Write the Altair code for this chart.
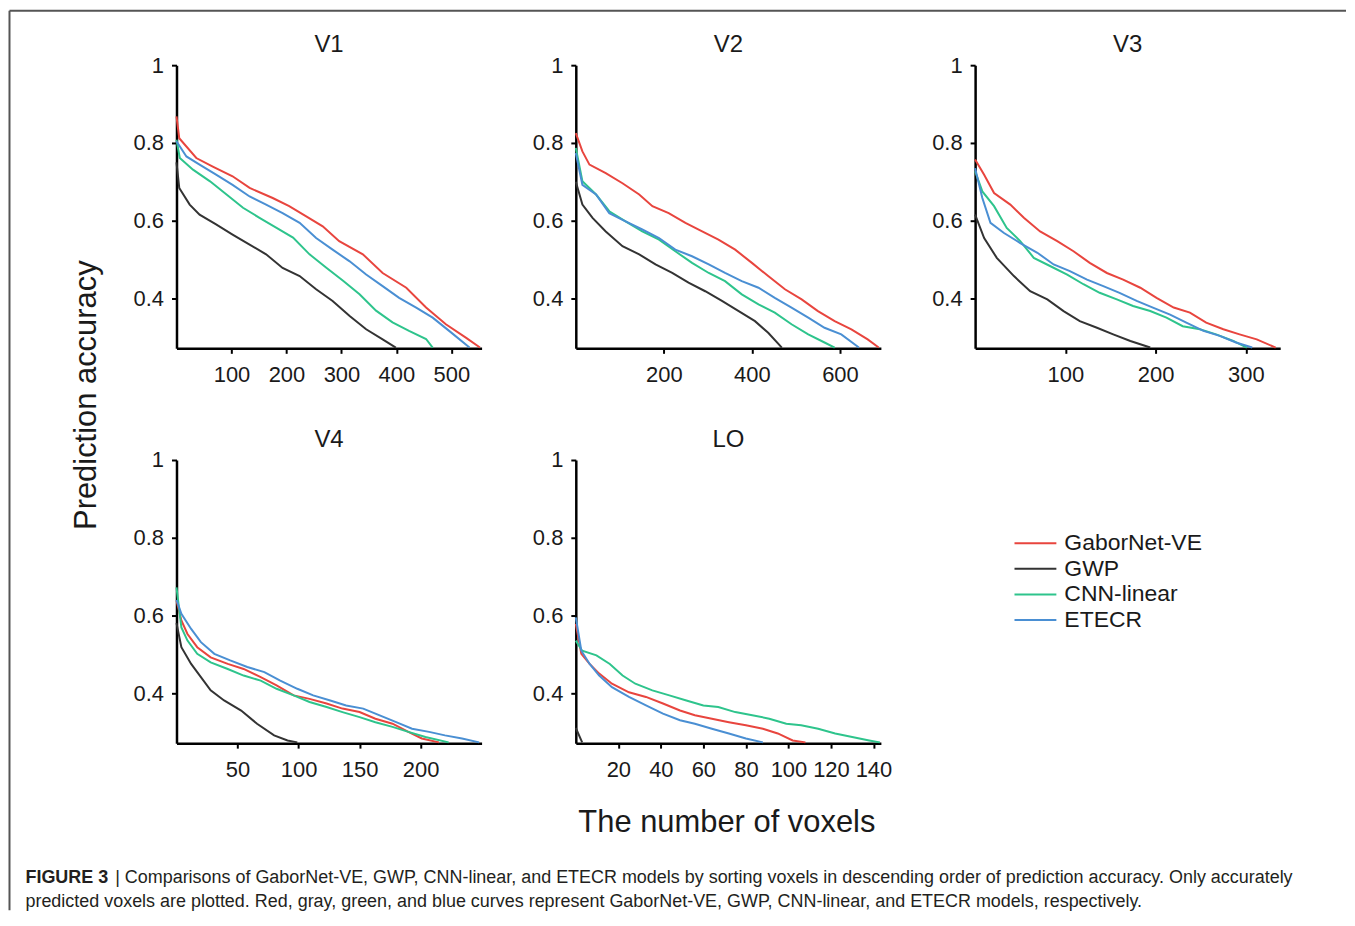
import altair as alt
import pandas as pd

FONT = "Liberation Sans"
MODELS = ["GaborNet-VE", "GWP", "CNN-linear", "ETECR"]
COLORS = ["#e8453e", "#333333", "#2ec48c", "#4a8fd3"]

PANELS = ["V1", "V2", "V3", "V4", "LO"]
X_MAX = [555, 693, 338, 250, 143.5]
X_TICKS = [[100, 200, 300, 400, 500], [200, 400, 600], [100, 200, 300],
           [50, 100, 150, 200], [20, 40, 60, 80, 100, 120, 140]]
Y_MIN = 0.271
Y_TICKS = [0.4, 0.6, 0.8, 1]

# (number of voxels, prediction accuracy)
V1_GABORNET = [[0, 0.868], [5, 0.812], [36, 0.761], [66, 0.739], [102, 0.714], [133, 0.684], [175, 0.658], [205, 0.637], [236, 0.611], [266, 0.585], [296, 0.547], [339, 0.513], [375, 0.465], [418, 0.427], [454, 0.376], [490, 0.333], [527, 0.298], [552, 0.273]]
V1_GWP = [[0, 0.75], [5, 0.684], [24, 0.641], [42, 0.615], [72, 0.590], [102, 0.564], [133, 0.538], [163, 0.513], [193, 0.478], [224, 0.457], [254, 0.423], [284, 0.393], [315, 0.354], [345, 0.320], [375, 0.294], [399, 0.273]]
V1_CNN = [[0, 0.808], [6, 0.761], [30, 0.731], [61, 0.701], [91, 0.667], [121, 0.633], [151, 0.607], [182, 0.581], [212, 0.556], [242, 0.513], [272, 0.479], [303, 0.445], [333, 0.410], [363, 0.368], [393, 0.338], [423, 0.316], [454, 0.295], [466, 0.273]]
V1_ETECR = [[0, 0.804], [18, 0.765], [42, 0.744], [72, 0.718], [102, 0.692], [133, 0.662], [163, 0.641], [193, 0.619], [224, 0.594], [254, 0.555], [284, 0.525], [315, 0.495], [345, 0.461], [375, 0.431], [405, 0.401], [436, 0.376], [466, 0.350], [496, 0.316], [533, 0.273]]

V2_GABORNET = [[0, 0.825], [15, 0.778], [31, 0.744], [68, 0.722], [106, 0.696], [144, 0.667], [174, 0.637], [211, 0.619], [249, 0.594], [287, 0.572], [324, 0.551], [362, 0.525], [400, 0.491], [437, 0.457], [475, 0.423], [513, 0.397], [550, 0.367], [588, 0.341], [626, 0.320], [663, 0.294], [688, 0.273]]
V2_GWP = [[0, 0.70], [15, 0.641], [38, 0.607], [68, 0.572], [106, 0.534], [144, 0.513], [181, 0.487], [219, 0.465], [256, 0.440], [294, 0.418], [332, 0.393], [370, 0.367], [407, 0.341], [437, 0.311], [468, 0.273]]
V2_CNN = [[0, 0.787], [15, 0.701], [46, 0.667], [76, 0.624], [113, 0.598], [151, 0.572], [189, 0.551], [226, 0.521], [264, 0.491], [302, 0.465], [339, 0.444], [377, 0.410], [415, 0.384], [452, 0.363], [490, 0.333], [528, 0.307], [565, 0.286], [588, 0.273]]
V2_ETECR = [[0, 0.774], [15, 0.692], [46, 0.667], [76, 0.619], [113, 0.598], [151, 0.577], [189, 0.555], [226, 0.525], [264, 0.508], [302, 0.487], [339, 0.465], [377, 0.444], [415, 0.427], [452, 0.401], [490, 0.376], [528, 0.350], [565, 0.324], [603, 0.307], [643, 0.273]]

V3_GABORNET = [[0, 0.757], [10, 0.718], [21, 0.671], [39, 0.641], [54, 0.607], [72, 0.572], [91, 0.547], [109, 0.521], [127, 0.491], [146, 0.465], [164, 0.448], [183, 0.427], [201, 0.401], [220, 0.376], [238, 0.363], [256, 0.337], [275, 0.320], [293, 0.307], [312, 0.294], [333, 0.273]]
V3_GWP = [[0, 0.615], [10, 0.555], [24, 0.504], [43, 0.457], [61, 0.418], [80, 0.397], [98, 0.367], [116, 0.341], [135, 0.324], [153, 0.307], [172, 0.290], [194, 0.273]]
V3_CNN = [[0, 0.727], [8, 0.675], [21, 0.637], [35, 0.581], [50, 0.547], [65, 0.504], [83, 0.483], [102, 0.461], [120, 0.436], [138, 0.414], [157, 0.397], [175, 0.380], [194, 0.367], [212, 0.350], [230, 0.328], [249, 0.320], [267, 0.307], [286, 0.290], [301, 0.273]]
V3_ETECR = [[0, 0.735], [8, 0.658], [17, 0.594], [32, 0.568], [50, 0.542], [69, 0.517], [87, 0.487], [105, 0.470], [124, 0.448], [142, 0.431], [160, 0.414], [179, 0.393], [197, 0.376], [216, 0.358], [234, 0.337], [253, 0.316], [271, 0.303], [289, 0.286], [307, 0.273]]

V4_GABORNET = [[0, 0.638], [4, 0.587], [9, 0.552], [17, 0.518], [28, 0.492], [42, 0.475], [55, 0.462], [69, 0.441], [82, 0.420], [96, 0.394], [109, 0.385], [123, 0.373], [136, 0.360], [150, 0.351], [163, 0.334], [177, 0.321], [190, 0.300], [201, 0.283], [215, 0.273]]
V4_GWP = [[0, 0.58], [4, 0.518], [12, 0.475], [20, 0.441], [28, 0.407], [39, 0.381], [53, 0.355], [66, 0.321], [80, 0.291], [91, 0.278], [99, 0.273]]
V4_CNN = [[0, 0.672], [4, 0.569], [9, 0.535], [17, 0.501], [28, 0.479], [42, 0.462], [55, 0.445], [69, 0.432], [82, 0.411], [96, 0.394], [109, 0.377], [123, 0.364], [136, 0.351], [150, 0.338], [163, 0.325], [177, 0.313], [190, 0.300], [204, 0.287], [223, 0.273]]
V4_ETECR = [[0, 0.64], [4, 0.604], [12, 0.565], [20, 0.531], [31, 0.501], [44, 0.484], [58, 0.467], [72, 0.454], [85, 0.432], [99, 0.411], [112, 0.394], [126, 0.381], [139, 0.368], [153, 0.360], [166, 0.343], [180, 0.325], [193, 0.308], [207, 0.300], [220, 0.291], [234, 0.283], [248, 0.273]]

LO_GABORNET = [[0, 0.578], [2.6, 0.501], [6.5, 0.475], [11, 0.450], [17, 0.424], [25, 0.402], [33, 0.390], [41, 0.373], [49, 0.355], [56, 0.343], [64, 0.334], [72, 0.325], [80, 0.317], [88, 0.308], [95, 0.296], [102, 0.278], [108, 0.273]]
LO_GWP = [[0, 0.31], [3, 0.273]]
LO_CNN = [[0, 0.535], [3, 0.509], [9.7, 0.497], [16, 0.475], [22, 0.445], [28, 0.424], [36, 0.407], [44, 0.394], [52, 0.381], [60, 0.368], [67, 0.364], [75, 0.351], [83, 0.343], [91, 0.334], [99, 0.321], [106, 0.317], [114, 0.308], [122, 0.296], [130, 0.287], [138, 0.278], [143, 0.273]]
LO_ETECR = [[0, 0.595], [2.6, 0.509], [6.5, 0.475], [11, 0.445], [17, 0.415], [25, 0.390], [33, 0.368], [41, 0.347], [49, 0.330], [56, 0.321], [64, 0.308], [72, 0.296], [80, 0.283], [88, 0.273]]

SERIES = [
    [V1_GABORNET, V1_GWP, V1_CNN, V1_ETECR],
    [V2_GABORNET, V2_GWP, V2_CNN, V2_ETECR],
    [V3_GABORNET, V3_GWP, V3_CNN, V3_ETECR],
    [V4_GABORNET, V4_GWP, V4_CNN, V4_ETECR],
    [LO_GABORNET, LO_GWP, LO_CNN, LO_ETECR],
]

Y_TITLE = "Prediction accuracy"
X_TITLE = "The number of voxels"
CAPTION_BOLD = "FIGURE 3"
CAPTION_1 = "| Comparisons of GaborNet-VE, GWP, CNN-linear, and ETECR models by sorting voxels in descending order of prediction accuracy. Only accurately"
CAPTION_2 = "predicted voxels are plotted. Red, gray, green, and blue curves represent GaborNet-VE, GWP, CNN-linear, and ETECR models, respectively."

W, H = 306, 284
color_enc = alt.Color("model:N", scale=alt.Scale(domain=MODELS, range=COLORS), legend=None)


def panel_df(i):
    rows = []
    for m, pts in zip(MODELS, SERIES[i]):
        for x, y in pts:
            rows.append({"model": m, "voxels": x, "accuracy": y})
    return pd.DataFrame(rows)


def text_layer(txt, x, y, size, **kw):
    return alt.Chart(pd.DataFrame({"t": [txt]})).mark_text(
        fontSize=size, font=FONT, **kw
    ).encode(x=alt.value(x), y=alt.value(y), text="t:N")


def make_panel(i, extra=None):
    lines = alt.Chart(panel_df(i)).mark_line(strokeWidth=2).encode(
        x=alt.X("voxels:Q",
                scale=alt.Scale(domain=[0, X_MAX[i]], nice=False, zero=False),
                axis=alt.Axis(values=X_TICKS[i], title=None, labelPadding=11)),
        y=alt.Y("accuracy:Q",
                scale=alt.Scale(domain=[Y_MIN, 1], nice=False, zero=False),
                axis=alt.Axis(values=Y_TICKS, title=None, labelPadding=8,
                              labelExpr="datum.value == 1 ? '1' : format(datum.value, '.1f')")),
        color=color_enc,
    )
    title = text_layer(PANELS[i], W / 2, -13, 24, align="center", baseline="alphabetic", color="#1a1a1a")
    layers = [lines, title] + (extra or [])
    return alt.layer(*layers).properties(width=W, height=H)


one = pd.DataFrame({"k": [0]})
frame_top = alt.Chart(one).mark_rule(color="#555555", strokeWidth=2).encode(
    x=alt.value(-167.5), x2=alt.value(1173), y=alt.value(-450.5))
frame_left = alt.Chart(one).mark_rule(color="#555555", strokeWidth=2).encode(
    x=alt.value(-167.5), y=alt.value(-450.5), y2=alt.value(451.5))
y_title = text_layer(Y_TITLE, -80.5, -65, 31, angle=270, align="center", baseline="alphabetic", color="#1a1a1a")
x_title = text_layer(X_TITLE, 552, 373, 31, align="center", baseline="alphabetic", color="#1a1a1a")
cap_bold = text_layer(CAPTION_BOLD, -151.5, 424.5, 18, align="left", baseline="alphabetic",
                      fontWeight="bold", color="#231f20")
cap_1 = text_layer(CAPTION_1, -61.5, 424.5, 18, align="left", baseline="alphabetic", color="#231f20")
cap_2 = text_layer(CAPTION_2, -151.5, 448.5, 18, align="left", baseline="alphabetic", color="#231f20")

annotations = [frame_top, frame_left, y_title, x_title, cap_bold, cap_1, cap_2]

leg_df = pd.DataFrame({"model": MODELS})
leg_y = alt.Y("model:N", scale=alt.Scale(type="point", domain=MODELS, range=[83.5, 160.5], padding=0),
              axis=None)
leg_rules = alt.Chart(leg_df).mark_rule(strokeWidth=2).encode(
    x=alt.value(39.5), x2=alt.value(81.5), y=leg_y, color=color_enc)
leg_text = alt.Chart(leg_df).mark_text(
    align="left", baseline="middle", fontSize=23, font=FONT, color="#1a1a1a"
).encode(x=alt.value(89.5), y=leg_y, text="model:N")
legend_cell = alt.layer(leg_rules, leg_text).properties(width=W, height=H)

cells = [make_panel(0), make_panel(1), make_panel(2), make_panel(3, annotations), make_panel(4), legend_cell]

chart = alt.concat(
    *cells, columns=3, bounds="flush", spacing={"row": 112, "column": 94.5}
).resolve_scale(
    x="independent", y="independent"
).properties(
    padding=0
).configure_view(
    stroke=None
).configure_axis(
    labelFont=FONT, labelFontSize=22, labelColor="#1a1a1a",
    domainColor="black", domainWidth=2.5, tickColor="black", tickWidth=2, tickSize=5,
    grid=False,
)

chart.save("out.html", embed_options={"renderer": "svg", "actions": False})
